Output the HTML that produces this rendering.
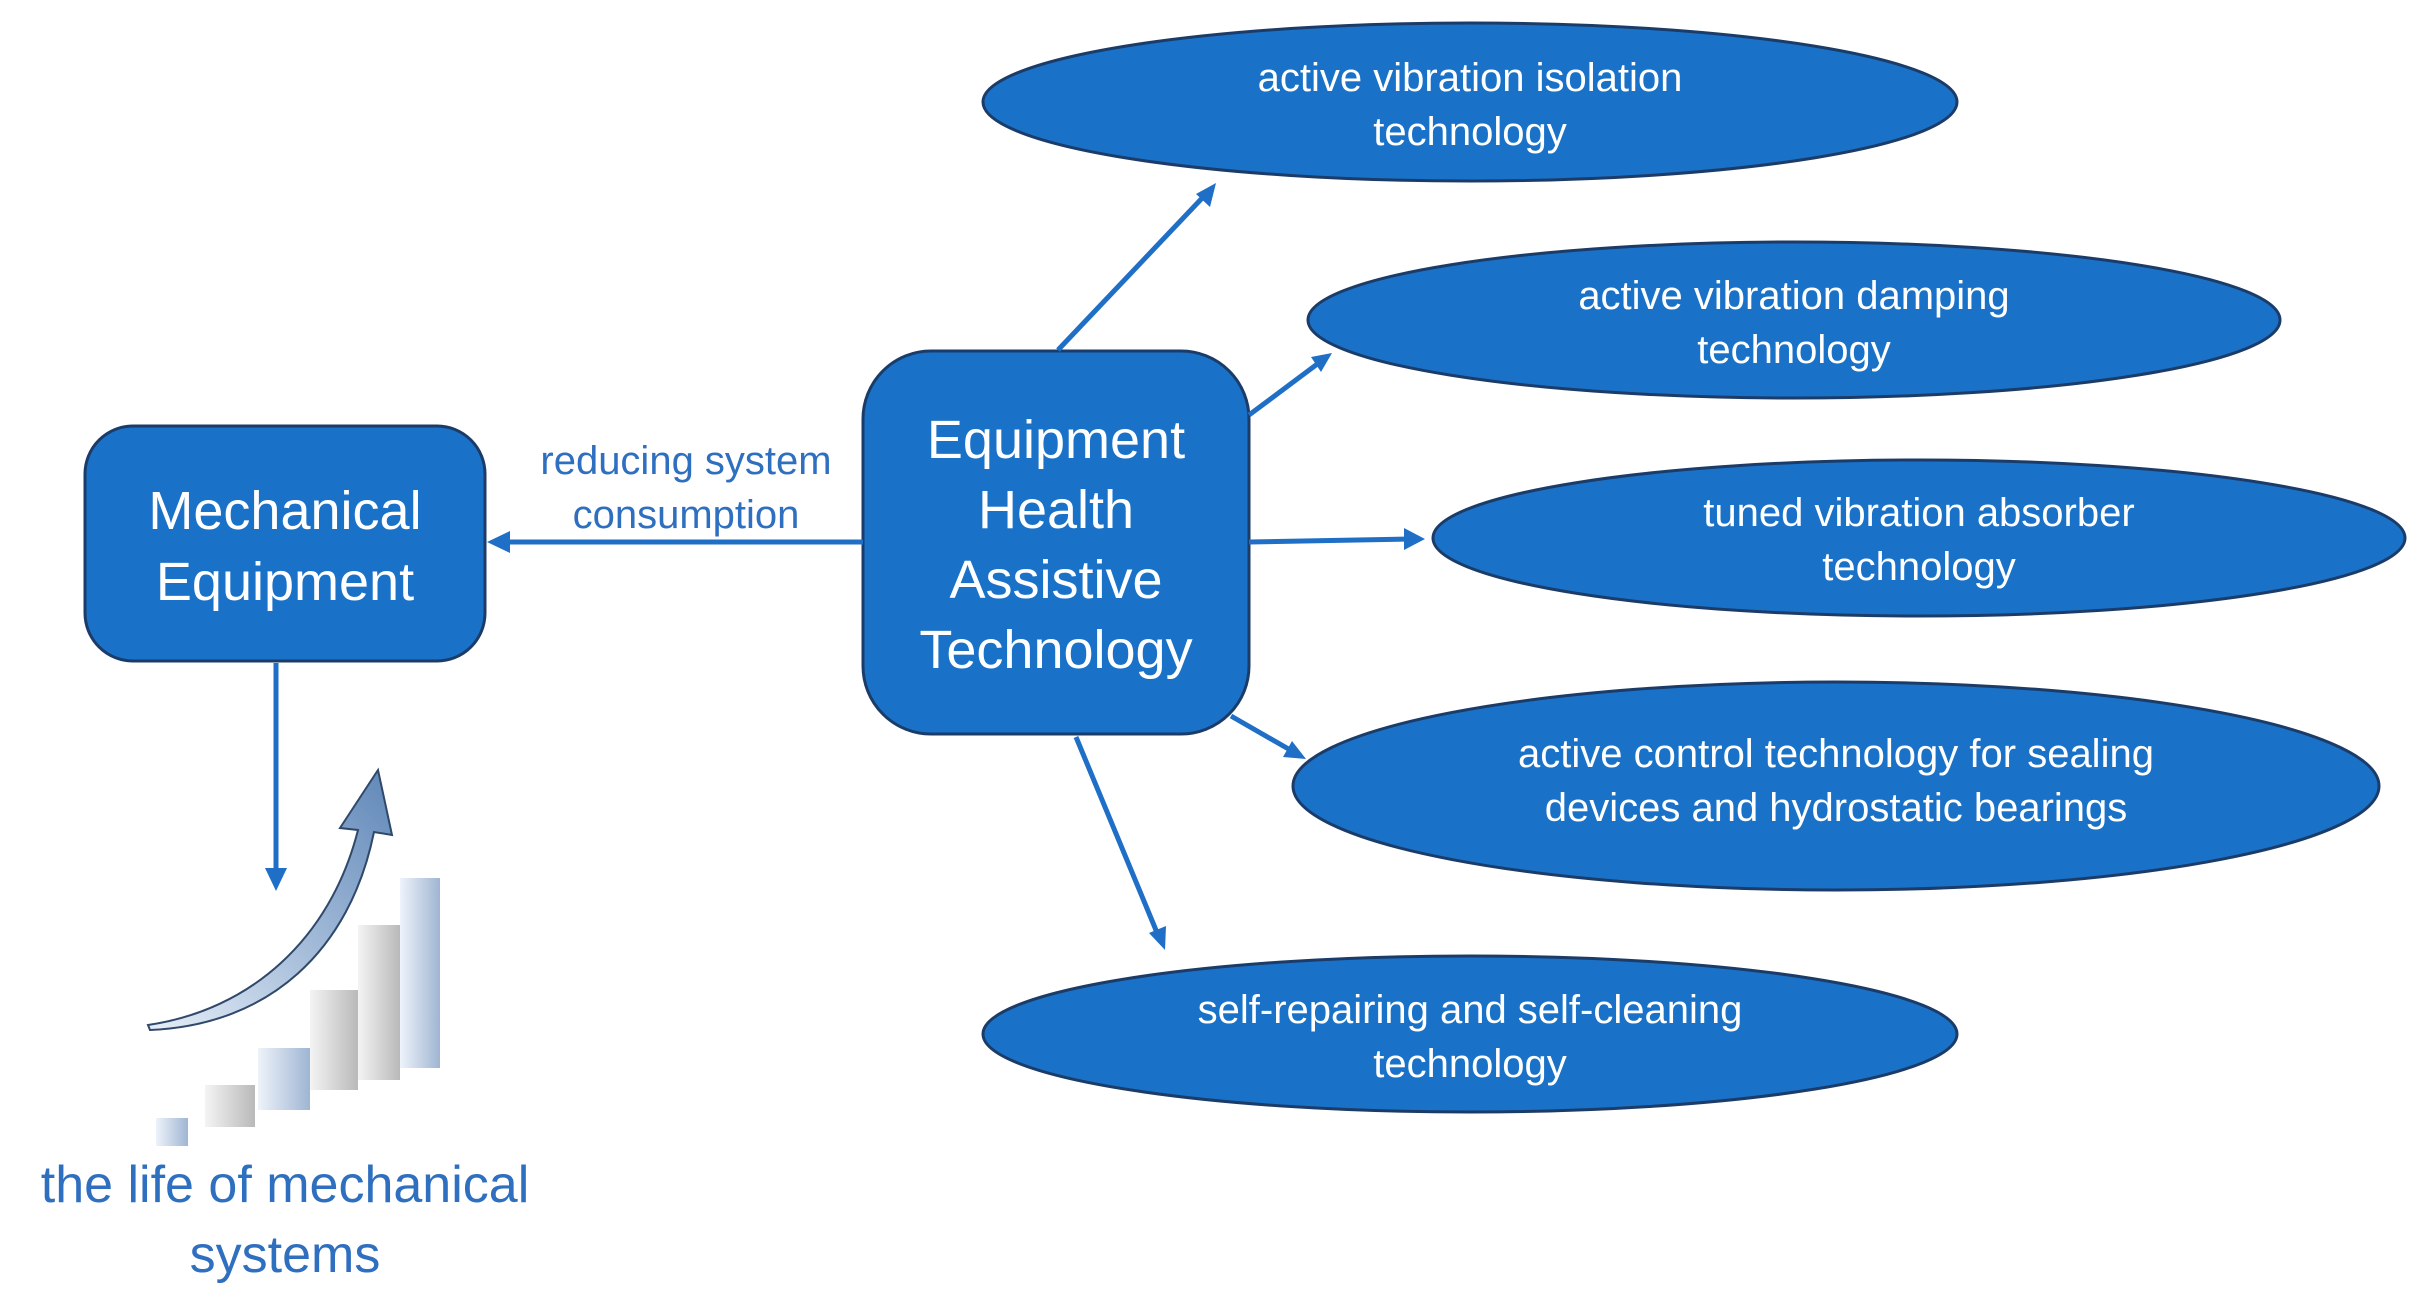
<!DOCTYPE html>
<html><head><meta charset="utf-8"><style>
html,body{margin:0;padding:0;background:#fff;}
svg{display:block;}
text{font-family:"Liberation Sans","Noto Sans CJK SC",sans-serif;}
</style></head><body>
<svg width="2416" height="1306" viewBox="0 0 2416 1306" xmlns="http://www.w3.org/2000/svg">
<defs>
<marker id="ah" markerWidth="10" markerHeight="10" refX="8" refY="5" orient="auto" markerUnits="userSpaceOnUse" viewBox="0 0 10 10">
</marker>
<linearGradient id="ag" x1="0" y1="1" x2="1" y2="0"><stop offset="0" stop-color="#e6eef8"/><stop offset="1" stop-color="#5f87b8"/></linearGradient>
<linearGradient id="bg1" x1="0" y1="0" x2="1" y2="0"><stop offset="0" stop-color="#f4f4f4"/><stop offset="1" stop-color="#b9b9b9"/></linearGradient>
<linearGradient id="bg2" x1="0" y1="0" x2="1" y2="0"><stop offset="0" stop-color="#eef3fa"/><stop offset="1" stop-color="#9fb5d3"/></linearGradient>
</defs>
<g fill="#1a72c8" stroke="#1b3c69" stroke-width="3">
<ellipse cx="1470" cy="102" rx="487" ry="79"/>
<ellipse cx="1794" cy="320" rx="486" ry="78"/>
<ellipse cx="1919" cy="538" rx="486" ry="78"/>
<ellipse cx="1836" cy="786" rx="543" ry="104"/>
<ellipse cx="1470" cy="1034" rx="487" ry="78"/>
<rect x="863" y="351" width="386" height="383" rx="68"/>
<rect x="85" y="426" width="400" height="235" rx="48"/>
</g>
<g stroke="#1f6fc6" stroke-width="5" fill="none">
<line x1="863" y1="542" x2="500" y2="542"/>
<line x1="1058" y1="350" x2="1206" y2="194"/>
<line x1="1249" y1="415" x2="1320" y2="362"/>
<line x1="1249" y1="542" x2="1410" y2="539"/>
<line x1="1231" y1="716" x2="1292" y2="751"/>
<line x1="1076" y1="737" x2="1158" y2="935"/>
<line x1="276" y1="663" x2="276" y2="876"/>
</g>
<g fill="#1f6fc6">
<polygon points="487,542 510,531 510,553"/>
<polygon points="1216,183 1210,207 1196,194"/>
<polygon points="1332,353 1321,372 1311,357"/>
<polygon points="1425,539 1404,550 1404,528"/>
<polygon points="1306,759 1283,757 1292,741"/>
<polygon points="1165,950 1149,933 1166,926"/>
<polygon points="276,891 265,868 287,868"/>
</g>
<!-- chart -->
<g>
<path d="M148,1025 C250,1010 330,940 358,830 L340,828 L378,770 L392,835 L374,832 C350,950 270,1025 150,1030 Z" fill="url(#ag)" stroke="#30486a" stroke-width="2"/>
<rect x="156" y="1118" width="32" height="28" fill="url(#bg2)"/>
<rect x="205" y="1085" width="50" height="42" fill="url(#bg1)"/>
<rect x="258" y="1048" width="52" height="62" fill="url(#bg2)"/>
<rect x="310" y="990" width="48" height="100" fill="url(#bg1)"/>
<rect x="358" y="925" width="42" height="155" fill="url(#bg1)"/>
<rect x="400" y="878" width="40" height="190" fill="url(#bg2)"/>
</g>
<g fill="#fff" text-anchor="middle" font-size="40">
<text x="1470" y="91">active vibration isolation</text>
<text x="1470" y="145">technology</text>
<text x="1794" y="309">active vibration damping</text>
<text x="1794" y="363">technology</text>
<text x="1919" y="526">tuned vibration absorber</text>
<text x="1919" y="580">technology</text>
<text x="1836" y="767">active control technology for sealing</text>
<text x="1836" y="821">devices and hydrostatic bearings</text>
<text x="1470" y="1023">self-repairing and self-cleaning</text>
<text x="1470" y="1077">technology</text>
<g font-size="54">
<text x="1056" y="458">Equipment</text>
<text x="1056" y="528">Health</text>
<text x="1056" y="598">Assistive</text>
<text x="1056" y="668">Technology</text>
<text x="285" y="529">Mechanical</text>
<text x="285" y="600">Equipment</text>
</g>
</g>
<g fill="#2f6fc0" text-anchor="middle">
<text x="686" y="474" font-size="40">reducing system</text>
<text x="686" y="528" font-size="40">consumption</text>
<text x="285" y="1202" font-size="52">the life of mechanical</text>
<text x="285" y="1272" font-size="52">systems</text>
</g>
</svg>
</body></html>
